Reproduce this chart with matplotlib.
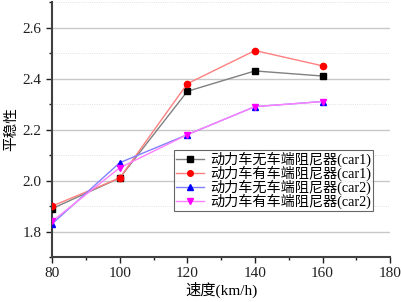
import matplotlib
matplotlib.use("Agg")
import matplotlib.pyplot as plt
from matplotlib.ticker import MultipleLocator

plt.rcParams['font.family'] = ['Liberation Serif', 'Noto Sans CJK SC']

speeds = [80, 100, 120, 140, 160]
car1_no = [1.89, 2.01, 2.35, 2.43, 2.41]
car1_yes = [1.90, 2.01, 2.38, 2.51, 2.45]
car2_no = [1.83, 2.07, 2.18, 2.29, 2.31]
car2_yes = [1.84, 2.05, 2.18, 2.29, 2.31]
labels = ['动力车无车端阻尼器(car1)', '动力车有车端阻尼器(car1)',
          '动力车无车端阻尼器(car2)', '动力车有车端阻尼器(car2)']

fig = plt.figure(figsize=(4.01, 3.02), dpi=100)
ax = fig.add_axes([0.130, 0.149, 0.843, 0.844])

series = [
    (car1_no, 's', 'black', '#808080'),
    (car1_yes, 'o', 'red', '#ff8080'),
    (car2_no, '^', 'blue', '#8080ff'),
    (car2_yes, 'v', 'magenta', '#ff80ff'),
]
for (vals, mk, mc, lc), lab in zip(series, labels):
    ax.plot(speeds, vals, color=lc, lw=1.0, marker=mk, markersize=4.5,
            markerfacecolor=mc, markeredgecolor=mc, label=lab, zorder=3)

ax.set_xlim(80, 180)
ax.set_ylim(1.7, 2.7)
ax.xaxis.set_major_locator(MultipleLocator(20))
ax.xaxis.set_minor_locator(MultipleLocator(10))
ax.yaxis.set_major_locator(MultipleLocator(0.2))
ax.yaxis.set_minor_locator(MultipleLocator(0.1))
ax.set_yticks([1.8, 2.0, 2.2, 2.4, 2.6])
ax.grid(which='major', axis='y', color='#c8c8c8', lw=1.0)
ax.grid(which='minor', axis='y', color='#d8d8d8', lw=0.6, ls=':')
ax.set_axisbelow(True)

for s in ['top', 'right']:
    ax.spines[s].set_visible(False)
for s in ['left', 'bottom']:
    ax.spines[s].set_linewidth(1.5)
    ax.spines[s].set_color('#404040')

ax.tick_params(which='major', direction='out', length=4, width=1, labelsize=11, colors='#202020')
ax.tick_params(which='minor', direction='out', length=2.5, width=1, colors='#202020')

ax.set_xlabel('速度(km/h)', fontsize=11, labelpad=1)
ax.set_ylabel('平稳性', fontsize=10.5, labelpad=3)

leg = ax.legend(loc='upper left', bbox_to_anchor=(0.36, 0.42), fontsize=10.2,
                frameon=True, fancybox=False, edgecolor='#404040',
                handlelength=2.0, labelspacing=-0.1, borderpad=0.15,
                handletextpad=0.4, borderaxespad=0, markerscale=0.9)
leg.get_frame().set_linewidth(0.8)

fig.savefig('out.png', dpi=100)
